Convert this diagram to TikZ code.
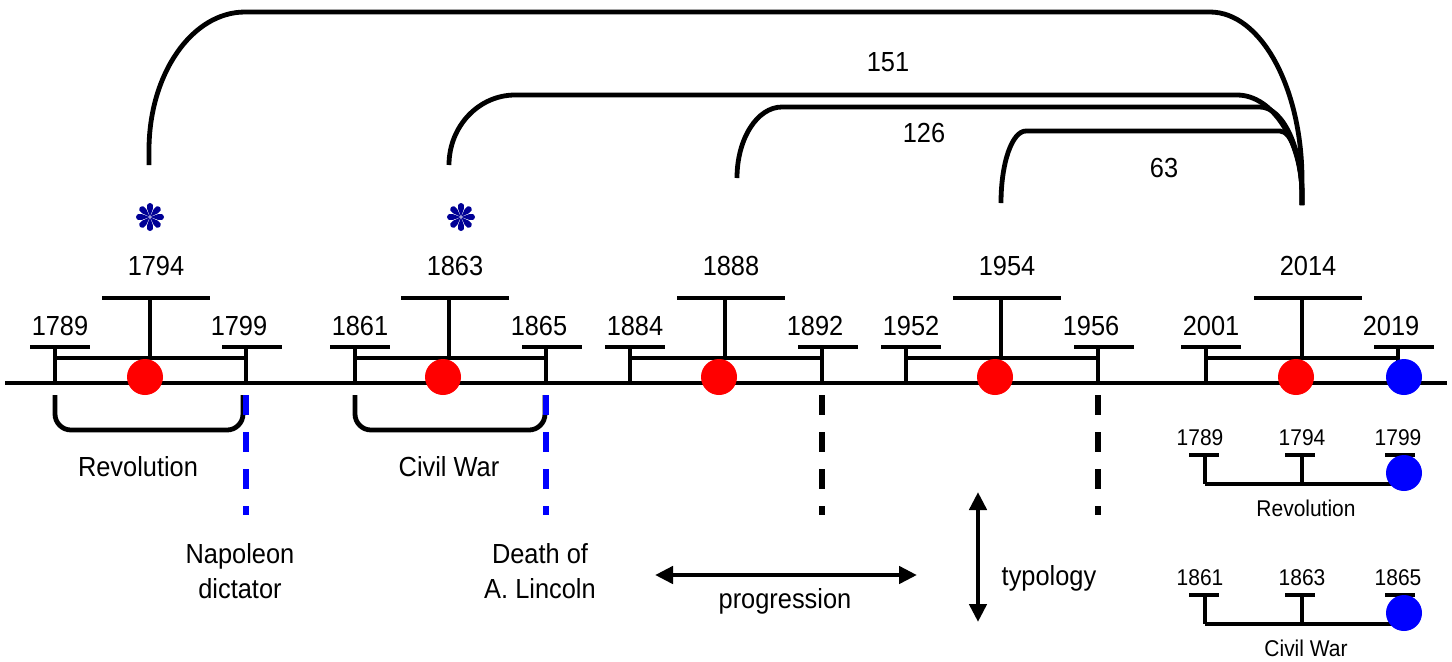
\documentclass[tikz,border=0pt]{standalone}
\usepackage{fontspec}
\setmainfont{Liberation Sans}[FakeStretch=0.92]
\usetikzlibrary{arrows.meta}
\definecolor{astblue}{RGB}{0,0,150}
\begin{document}
\begin{tikzpicture}[x=0.5pt,y=-0.5pt,
  ln/.style={line width=2.4pt},
  lbl/.style={inner sep=0pt,font=\fontsize{13.8}{17.8}\selectfont},
  smlbl/.style={inner sep=0pt,font=\fontsize{11.4}{13}\selectfont},
  dotnode/.style={circle,inner sep=0pt,minimum size=18pt},
  dashline/.style={line width=2.8pt,dash pattern=on 10pt off 8.5pt},
  dbl/.style={line width=2.4pt,{Triangle[length=9pt,width=8.5pt]}-{Triangle[length=9pt,width=8.5pt]}},
]
\useasboundingbox (0,0) rectangle (1452,661);

% main axis
\coordinate (axL) at (5,383);
\coordinate (axR) at (1447,383);
\draw[ln] (axL) -- (axR);

% groups on the axis
\foreach \g/\d/\c/\l/\r/\tl/\tc/\tr in {1/145/150/55/246/1789/1794/1799,
  2/443/449/355/546/1861/1863/1865,
  3/719/725/630/822/1884/1888/1892,
  4/995/1001/906/1098/1952/1954/1956,
  5/1296/1302/1206/1398/2001/2014/2019}{
  \draw[ln] (\c-48,298) -- (\c+60,298);
  \draw[ln] (\c,298) -- (\c,358);
  \draw[ln] (\l,358) -- (\r,358);
  \draw[ln] (\l-25,347) -- (\l+35,347);
  \draw[ln] (\r-24,347) -- (\r+36,347);
  \draw[ln] (\l,347) -- (\l,383);
  \draw[ln] (\r,347) -- (\r,383);
  \node[lbl] (yl\g) at (\l+5,326) {\tl};
  \node[lbl] (yc\g) at (\c+6,266) {\tc};
  \node[lbl] (yr\g) at (\r-7,326) {\tr};
  \node[dotnode,fill=red] (rd\g) at (\d,377) {};
}
\node[dotnode,fill=blue] (bd5) at (1404,377) {};

% brackets below the axis
\foreach \g/\l/\r in {1/55/243, 2/355/545}{
  \draw[ln,rounded corners=8pt] (\l,395) -- (\l,430) -- (\r,430) -- (\r,395);
}
\node[lbl] (rev) at (138,467) {Revolution};
\node[lbl] (cw) at (449,467) {Civil War};

% dashed markers
\foreach \x/\col in {246/blue, 546/blue, 822/black, 1098/black}{
  \draw[dashline,draw=\col] (\x,395) -- (\x,515);
}
\node[lbl,align=center] (nap) at (240,571) {Napoleon\\dictator};
\node[lbl,align=center] (lin) at (540,571) {Death of\\A. Lincoln};

% asterisks
\foreach \ax in {150,461}{
  \foreach \a in {0,45,...,315}{
    \fill[astblue,shift={(\ax,217)},rotate=\a]
      (0.5,0) .. controls (5,-1.4) and (12.5,-6.5) .. (14,0) .. controls (12.5,6.5) and (5,1.4) .. (0.5,0);
  }
}

% arcs to 2014
\coordinate (hub) at (1302,205);
\coordinate (a1) at (149,165);
\coordinate (a2) at (449,165);
\coordinate (a3) at (737,178);
\coordinate (a4) at (1001,203);
\draw[ln] (a1) -- (149,150) .. controls (149,74) and (192,12) .. (245,12) -- (1210,12)
  .. controls (1261,12) and (1302,88) .. (1302,180) -- (hub);
\draw[ln] (a2) .. controls (449,126) and (479,95) .. (515,95) -- (1237,95)
  .. controls (1273,95) and (1302,142) .. (1302,195) -- (hub);
\draw[ln] (a3) .. controls (737,139) and (757,107) .. (782,107) -- (1260,107)
  .. controls (1283,107) and (1302,149) .. (1302,195) -- (hub);
\draw[ln] (a4) .. controls (1001,163) and (1012,131) .. (1026,131) -- (1280,131)
  .. controls (1292,131) and (1302,162) .. (1302,195) -- (hub);
\node[lbl] (n151) at (888,62) {151};
\node[lbl] (n126) at (924,133) {126};
\node[lbl] (n63) at (1164,168) {63};

% insets
\foreach \g/\yo/\ta/\tb/\tc/\nm in {r/0/1789/1794/1799/Revolution, c/140/1861/1863/1865/Civil War}{
  \draw[ln] (1205,484+\yo) -- (1398,484+\yo);
  \draw[ln] (1205,455+\yo) -- (1205,484+\yo);
  \draw[ln] (1302,455+\yo) -- (1302,484+\yo);
  \draw[ln] (1398,455+\yo) -- (1398,484+\yo);
  \draw[ln] (1189,455+\yo) -- (1219,455+\yo);
  \draw[ln] (1285,455+\yo) -- (1315,455+\yo);
  \draw[ln] (1385,455+\yo) -- (1415,455+\yo);
  \node[smlbl] (ia\g) at (1200,438+\yo) {\ta};
  \node[smlbl] (ib\g) at (1302,438+\yo) {\tb};
  \node[smlbl] (ic\g) at (1398,438+\yo) {\tc};
  \node[dotnode,fill=blue] (idot\g) at (1404,473+\yo) {};
  \node[smlbl] (inm\g) at (1306,508+\yo) {\nm};
}

% progression and typology arrows
\coordinate (pL) at (655,575);
\coordinate (pR) at (917,575);
\draw[dbl] (pL) -- (pR);
\node[lbl] (prog) at (785,601) {progression};
\coordinate (tT) at (978,492);
\coordinate (tB) at (978,622);
\draw[dbl] (tT) -- (tB);
\node[lbl] (typ) at (1049,578) {typology};
\end{tikzpicture}
\end{document}
